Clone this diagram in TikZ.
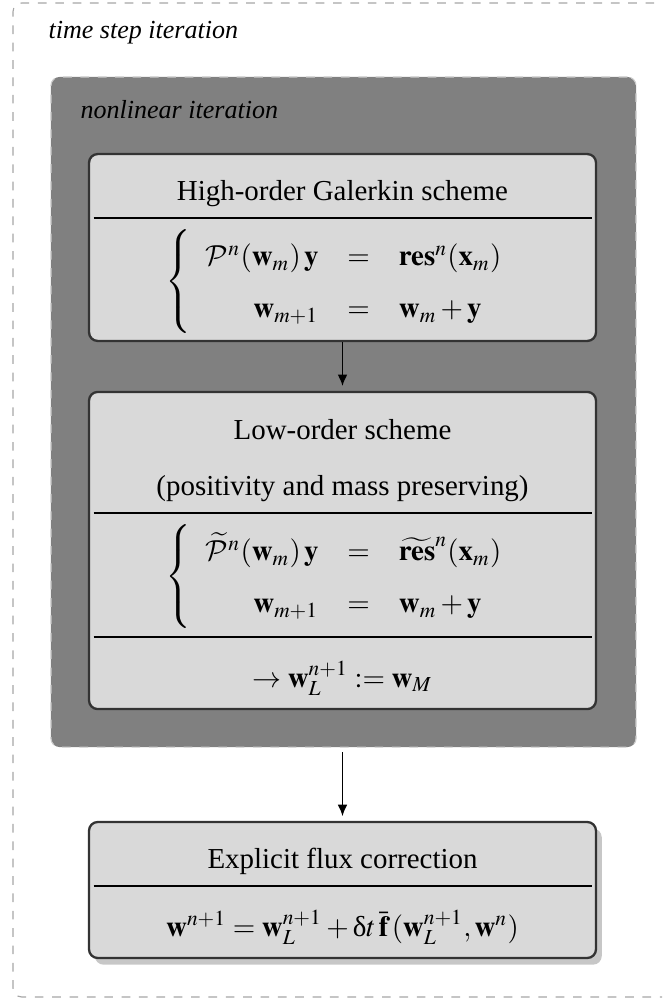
\documentclass[tikz,border=0pt]{standalone}
\usepackage{mathptmx}
\usepackage{fontspec}
\setmainfont{Liberation Serif}
\DeclareMathAlphabet{\mathcal}{OMS}{cmsy}{m}{n}
\newcommand{\updeltaglyph}{\mbox{\normalfont δ}}
\usetikzlibrary{arrows.meta,shadows}
\begin{document}
\begin{tikzpicture}[x=0.3456pt,y=-0.3456pt,
  lbl/.style={anchor=base west, inner sep=0pt, font=\small\itshape},
  card/.style={draw=black!80, line width=0.8pt, fill=gray!30, rounded corners=3pt,
               inner sep=0pt, minimum width=175.2pt},
  txt/.style={anchor=base, inner sep=0pt},
  eqn/.style={inner sep=0pt, execute at begin node={\renewcommand{\arraystretch}{1.5}}},
  rulethick/.style={line width=0.8pt},
  rulethin/.style={line width=0.45pt},
  flow/.style={-{Latex[length=4pt,width=3.4pt]}, line width=0.6pt, shorten >=1.6pt}]
\useasboundingbox (0,0) rectangle (662,999);
\clip (0,0) rectangle (662,999);
% outer time step frame
\node[draw=gray!70, dashed, rounded corners=3pt, inner sep=0pt,
      minimum width=242.6pt, minimum height=343.5pt] (ts) at (364,500) {};
\node[lbl] (tsl) at (48,39) {time step iteration};
% nonlinear iteration frame
\node[fill=gray, draw=gray!40, dashed, rounded corners=3pt, inner sep=0pt,
      minimum width=202.2pt, minimum height=231.6pt] (nl) at (343.5,412) {};
\node[lbl] (nll) at (80,118) {nonlinear iteration};
% high order box
\node[card, minimum height=64.6pt] (hi) at (342.5,247.5) {};
\node[txt] (hit) at (342.5,200) {High-order Galerkin scheme};
\coordinate (hr) at (0,218);
\draw[rulethick] ([xshift=2pt]hi.west |- hr) -- ([xshift=-1.7pt]hi.east |- hr);
\node[eqn] (hieq) at (342.5,281.5) {$\left\{\begin{array}{rcl}
  \mathcal{P}^n(\mathbf{w}_m)\,\mathbf{y} & = & \mathbf{res}^n(\mathbf{x}_m)\\
  \mathbf{w}_{m+1} & = & \mathbf{w}_m+\mathbf{y}
  \end{array}\right.$};
% low order box
\node[card, minimum height=109.6pt] (lo) at (342.5,550.5) {};
\node[txt] (lot1) at (342.5,439) {Low-order scheme};
\node[txt] (lot2) at (342.5,495) {(positivity and mass preserving)};
\coordinate (lr1) at (0,513);
\coordinate (lr2) at (0,637);
\draw[rulethick] ([xshift=2pt]lo.west |- lr1) -- ([xshift=-1.7pt]lo.east |- lr1);
\draw[rulethin] ([xshift=2pt]lo.west |- lr2) -- ([xshift=-1.7pt]lo.east |- lr2);
\node[eqn] (loeq) at (342.5,576.5) {$\left\{\begin{array}{rcl}
  \widetilde{\mathcal{P}}^n(\mathbf{w}_m)\,\mathbf{y} & = & \widetilde{\mathbf{res}}^n(\mathbf{x}_m)\\
  \mathbf{w}_{m+1} & = & \mathbf{w}_m+\mathbf{y}
  \end{array}\right.$};
\node[txt] (lores) at (342.5,687) {$\rightarrow \mathbf{w}_L^{n+1} := \mathbf{w}_M$};
% explicit flux correction
\node[card, minimum height=47pt,
      drop shadow={shadow xshift=2pt, shadow yshift=-2.3pt, fill=black!22, opacity=1}] (ex) at (342.5,890) {};
\node[txt] (ext) at (342.5,868) {Explicit flux correction};
\coordinate (er) at (0,886);
\draw[rulethick] ([xshift=2pt]ex.west |- er) -- ([xshift=-1.7pt]ex.east |- er);
\node[txt] (exeq) at (342.5,936) {$\mathbf{w}^{n+1} = \mathbf{w}_L^{n+1} + \updeltaglyph t\,\bar{\mathbf{f}}\,(\mathbf{w}_L^{n+1},\mathbf{w}^n)$};
% arrows
\draw[flow] (hi) -- (lo);
\draw[flow, shorten <=1.6pt] (ex.north |- nl.south) -- (ex.north);
\end{tikzpicture}
\end{document}
